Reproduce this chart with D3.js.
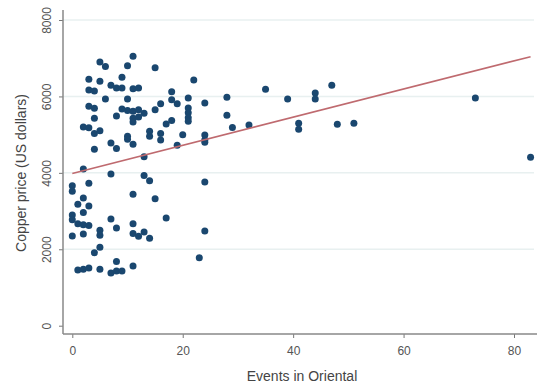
<!DOCTYPE html>
<html>
<head>
<meta charset="utf-8">
<script src="https://cdn.jsdelivr.net/npm/d3@7/dist/d3.min.js"></script>
<style>
  body { margin: 0; background: #fff; }
  svg { display: block; font-family: "Liberation Sans", Arial, sans-serif; }
</style>
</head>
<body>
<div id="chart"></div>
<script>
// events in Oriental (x) and copper price in US dollars (y)
const events = [
  0, 0, 0, 0, 0,
  1, 1, 1,
  2, 2, 2, 2, 2, 2, 2,
  3, 3, 3, 3, 3, 3, 3, 3,
  4, 4, 4, 4, 4, 4,
  5, 5, 5, 5, 5, 5, 5,
  6, 6,
  7, 7, 7, 7, 7,
  8, 8, 8, 8, 8, 8,
  9, 9, 9, 9,
  10, 10, 10, 10, 10,
  11, 11, 11, 11, 11, 11, 11, 11, 11, 11,
  12, 12, 12, 12,
  13, 13, 13, 13,
  14, 14, 14, 14,
  15, 15, 15,
  16, 16, 16,
  17, 17,
  18, 18, 18,
  19, 19,
  20,
  21, 21, 21, 21, 21,
  22, 23,
  24, 24, 24, 24, 24, 24,
  28, 28, 29, 32, 35, 39, 41, 41, 44, 44, 47, 48, 51, 73, 83
];
const price = [
  3660, 3520, 2900, 2770, 2350,
  3180, 2670, 1460,
  5200, 4100, 3340, 2960, 2640, 2400, 1480,
  6450, 6165, 5745, 5180, 3730, 3130, 2620, 1510,
  6140, 5690, 5430, 5030, 4620, 1910,
  6900, 6400, 5100, 2500, 2370, 2050, 1480,
  6780, 5930,
  6290, 4780, 3970, 2790, 1380,
  6220, 5490, 4640, 2560, 1680, 1430,
  6500, 6220, 5670, 1430,
  6800, 5930, 5630, 4960, 4880,
  7050, 6200, 5610, 5430, 5330, 4750, 3440, 2670, 2410, 1560,
  6220, 5650, 5460, 2340,
  5560, 4420, 3930, 2450,
  5090, 4960, 3790, 2290,
  6750, 5650, 3320,
  5810, 5030, 4860,
  5280, 2820,
  6120, 5910, 5370,
  5810, 4720,
  5000,
  5960, 5700, 5570, 5440, 5350,
  6430, 1780,
  5830, 4990, 4860, 4800, 3760, 2480,
  5980, 5510, 5190, 5250, 6190, 5930, 5300, 5140, 6090, 5930, 6290, 5270, 5300, 5960, 4410
];
// fitted line end points
const fitX = [0, 83];
const fitY = [3985, 7040];

const xTicks = [0, 20, 40, 60, 80];
const yTicks = [0, 2000, 4000, 6000, 8000];

const width = 537, height = 387;
const axisX = 63, axisY = 334;

const svg = d3.select("#chart").append("svg")
  .attr("width", width)
  .attr("height", height);

const x = d3.scaleLinear().domain([0, 80]).range([72.3, 514]);
const y = d3.scaleLinear().domain([0, 8000]).range([325.7, 20]);

// grid lines
svg.append("g")
  .selectAll("line")
  .data(yTicks.slice(1))
  .enter().append("line")
  .attr("x1", axisX)
  .attr("x2", 534)
  .attr("y1", d => y(d))
  .attr("y2", d => y(d))
  .attr("stroke", "#e8f0f0")
  .attr("stroke-width", 1.5);

// y axis
const yAxis = svg.append("g")
  .attr("transform", `translate(${axisX},0)`)
  .call(d3.axisLeft(y).tickValues(yTicks).tickFormat(d3.format("d")).tickSize(4));
yAxis.select(".domain").remove();
yAxis.selectAll(".tick line").attr("stroke", "#777");
yAxis.selectAll(".tick text")
  .attr("x", null)
  .attr("dy", null)
  .attr("text-anchor", "middle")
  .attr("transform", "translate(-12,0) rotate(-90)")
  .attr("fill", "#555")
  .style("font-size", "12px");

svg.append("line")
  .attr("x1", axisX).attr("x2", axisX)
  .attr("y1", 10).attr("y2", axisY)
  .attr("stroke", "#888")
  .attr("stroke-width", 1.5);

// x axis
const xAxis = svg.append("g")
  .attr("transform", `translate(0,${axisY})`)
  .call(d3.axisBottom(x).tickValues(xTicks).tickSize(4).tickPadding(8));
xAxis.select(".domain").remove();
xAxis.selectAll(".tick line").attr("stroke", "#777");
xAxis.selectAll(".tick text")
  .attr("fill", "#555")
  .style("font-size", "12px");

svg.append("line")
  .attr("x1", axisX).attr("x2", width)
  .attr("y1", axisY).attr("y2", axisY)
  .attr("stroke", "#888")
  .attr("stroke-width", 1.5);

// axis titles
svg.append("text")
  .attr("x", 302)
  .attr("y", 381)
  .attr("text-anchor", "middle")
  .attr("fill", "#444")
  .style("font-size", "14px")
  .text("Events in Oriental");

svg.append("text")
  .attr("transform", "translate(26,173) rotate(-90)")
  .attr("text-anchor", "middle")
  .attr("fill", "#444")
  .style("font-size", "14px")
  .text("Copper price (US dollars)");

// points
svg.append("g")
  .selectAll("circle")
  .data(events)
  .enter().append("circle")
  .attr("cx", d => x(d))
  .attr("cy", (d, i) => y(price[i]))
  .attr("r", 3.5)
  .attr("fill", "#1a476f");

// fitted line
svg.append("line")
  .attr("x1", x(fitX[0])).attr("y1", y(fitY[0]))
  .attr("x2", x(fitX[1])).attr("y2", y(fitY[1]))
  .attr("stroke", "#bf6a6f")
  .attr("stroke-width", 1.6);
</script>
</body>
</html>
